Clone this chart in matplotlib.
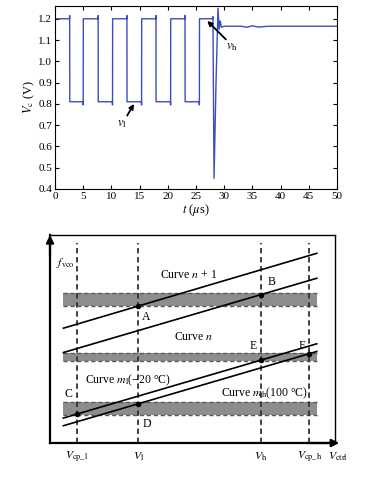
import numpy as np
import matplotlib
matplotlib.use('Agg')
import matplotlib.pyplot as plt

plt.rcParams['font.family'] = ['Liberation Serif', 'DejaVu Serif']
plt.rcParams['mathtext.fontset'] = 'stix'

# ---- top: control voltage waveform ----
t_us = [0, 2.58, 2.6, 2.62, 4.97, 5.0, 5.02,
        7.63, 7.65, 7.67, 10.17, 10.2, 10.22,
        12.73, 12.75, 12.77, 15.32, 15.35, 15.37,
        17.88, 17.9, 17.92, 20.47, 20.5, 20.52,
        23.03, 23.05, 23.07, 25.57, 25.6, 25.62,
        27.95, 28.0, 28.2, 28.55, 28.9, 29.1, 29.3, 29.5,
        30, 33, 34, 35, 36, 38, 50]
vc = [1.2, 1.2, 1.215, 0.81, 0.81, 0.795, 1.2,
      1.2, 1.215, 0.81, 0.81, 0.795, 1.2,
      1.2, 1.215, 0.81, 0.81, 0.795, 1.2,
      1.2, 1.215, 0.81, 0.81, 0.795, 1.2,
      1.2, 1.215, 0.81, 0.81, 0.795, 1.2,
      1.2, 1.21, 0.45, 0.9, 1.25, 1.15, 1.19, 1.16,
      1.165, 1.165, 1.16, 1.167, 1.161, 1.165, 1.165]

# ---- bottom: schematic of VCO curves ----
v_marks = [0.95, 3.1, 7.4, 9.1]          # V_cp_l, V_l, V_h, V_cp_h
v_names = ['$V_{\\mathrm{cp\\_l}}$', '$V_{\\mathrm{l}}$', '$V_{\\mathrm{h}}$', '$V_{\\mathrm{cp\\_h}}$']
bands = [(6.59, 7.23), (3.94, 4.35), (1.36, 1.95)]
line_x = [0.47, 9.36]
curve_n1 = [5.52, 9.12]
curve_n = [4.35, 7.92]
curve_m_cold = [1.2, 4.77]
curve_m_hot = [0.83, 4.4]

fig = plt.figure(figsize=(3.76, 4.8), dpi=100)

ax = fig.add_axes([55/376, 1-189/480, (337-55)/376, (189-6)/480])
ax.plot(t_us, vc, color='#3b4cc0', lw=1.0)
ax.set_xlim(0, 50)
ax.set_ylim(0.4, 1.26)
ax.set_xticks(np.arange(0, 51, 5))
ax.set_yticks(np.arange(0.4, 1.21, 0.1))
ax.set_yticklabels(['%.1f' % v for v in np.arange(0.4, 1.21, 0.1)])
ax.tick_params(direction='in', top=True, right=True, labelsize=8, length=3, pad=2)
ax.set_xlabel('$t$ ($\\mu$s)', fontsize=9, labelpad=1)
ax.set_ylabel('$V_{\\mathrm{c}}$ (V)', fontsize=9, labelpad=1)

arrow = dict(arrowstyle='-|>', color='k', lw=1.3, mutation_scale=7, shrinkA=0, shrinkB=0)
ax.annotate('', xy=(14.0, 0.80), xytext=(12.8, 0.745), arrowprops=arrow)
ax.text(11.9, 0.705, '$v_{\\mathrm{l}}$', fontsize=9, ha='center', va='center')
ax.annotate('', xy=(27.0, 1.19), xytext=(30.3, 1.103), arrowprops=arrow)
ax.text(31.3, 1.068, '$v_{\\mathrm{h}}$', fontsize=9, ha='center', va='center')

# bottom schematic
bx = fig.add_axes([50/376, 1-443/480, (335-50)/376, (443-235)/480])
bx.set_xlim(0, 10)
bx.set_ylim(0, 10)
bx.set_xticks([])
bx.set_yticks([])
for s in ['top', 'right']:
    bx.spines[s].set_linewidth(1.0)
for s in ['left', 'bottom']:
    bx.spines[s].set_linewidth(1.6)

for lo, hi in bands:
    bx.fill_between(line_x, lo, hi, color='#8d8d8d', lw=0)
    bx.plot(line_x, [lo, lo], color='#5a5a5a', lw=1.0, ls=(0, (3, 2)))
    bx.plot(line_x, [hi, hi], color='#5a5a5a', lw=1.0, ls=(0, (3, 2)))

for xv in v_marks:
    bx.axvline(xv, ymin=0.0, ymax=0.96, color='#333333', lw=1.3, ls=(0, (3, 2)))

for yv in [curve_n1, curve_n, curve_m_cold, curve_m_hot]:
    bx.plot(line_x, yv, color='k', lw=1.2)

pts = [(curve_n1, v_marks[1]), (curve_n, v_marks[2]), (curve_m_cold, v_marks[2]),
       (curve_m_hot, v_marks[3]), (curve_m_cold, v_marks[0]), (curve_m_hot, v_marks[1])]
for yv, xv in pts:
    bx.plot(xv, np.interp(xv, line_x, yv), 'o', color='k', ms=3)

fs = 8.5
bx.text(4.85, 8.08, 'Curve $n$ + 1', fontsize=fs, ha='center', va='center')
bx.text(5.03, 5.09, 'Curve $n$', fontsize=fs, ha='center', va='center')
bx.text(2.75, 3.01, 'Curve $m_{\\mathrm{l}}$(\u221220 \u00b0C)', fontsize=fs, ha='center', va='center')
bx.text(7.54, 2.40, 'Curve $m_{\\mathrm{h}}$(100 \u00b0C)', fontsize=fs, ha='center', va='center')
for lab, x, y in [('A', 3.39, 6.08), ('B', 7.78, 7.76), ('C', 0.64, 2.37),
                  ('D', 3.39, 0.93), ('E', 7.13, 4.67), ('F', 8.83, 4.67)]:
    bx.text(x, y, lab, fontsize=fs, ha='center', va='center')
bx.text(0.2, 8.64, '$f_{\\mathrm{vco}}$', fontsize=fs, ha='left', va='center')

for name, xv in zip(v_names, v_marks):
    bx.text(xv, -0.65, name, fontsize=fs, ha='center', va='center', clip_on=False)
bx.text(10.1, -0.65, '$V_{\\mathrm{ctrl}}$', fontsize=fs, ha='center', va='center', clip_on=False)

bx.annotate('', xy=(0, 1.0), xytext=(0, 0.9), xycoords='axes fraction',
            arrowprops=dict(arrowstyle='-|>', color='k', lw=1.6, mutation_scale=11,
                            shrinkA=0, shrinkB=0))
bx.annotate('', xy=(1.015, 0), xytext=(0.9, 0), xycoords='axes fraction',
            arrowprops=dict(arrowstyle='-|>', color='k', lw=1.6, mutation_scale=11,
                            shrinkA=0, shrinkB=0))

plt.savefig('out.png', dpi=100)
